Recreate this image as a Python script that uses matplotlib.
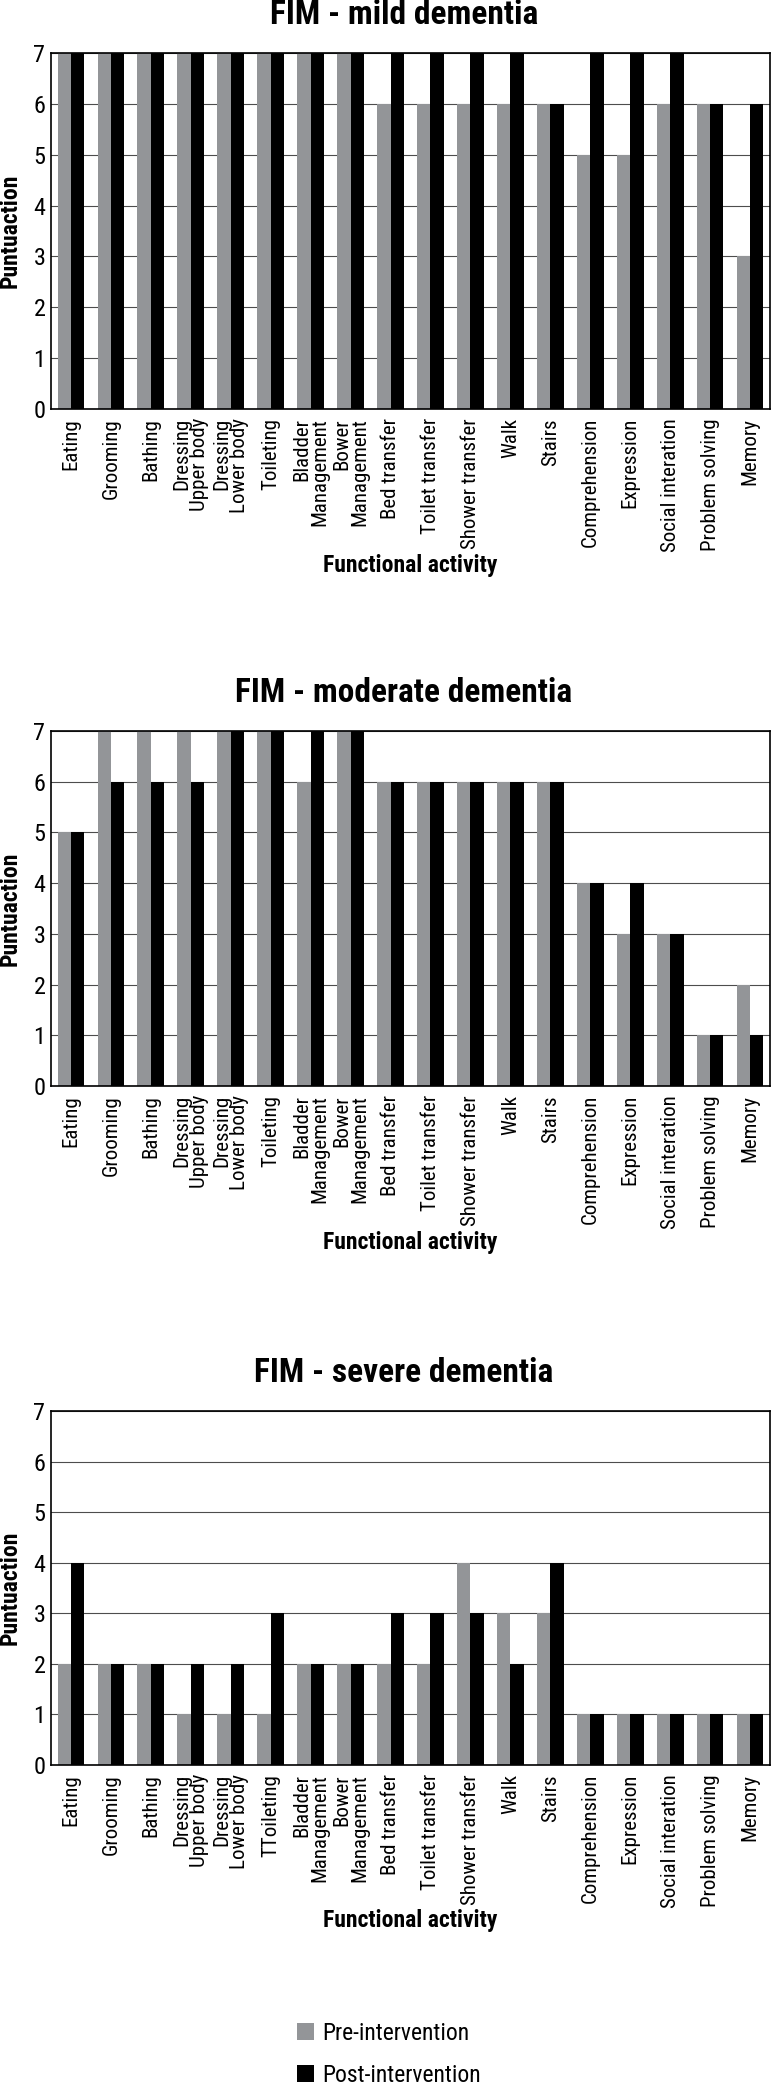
import numpy as np
import matplotlib
matplotlib.use('Agg')
import matplotlib.pyplot as plt
import matplotlib.font_manager as fm

####Data####

activities = ['Eating', 'Grooming', 'Bathing', 'Dressing\nUpper body', 'Dressing\nLower body',
              'Toileting', 'Bladder\nManagement', 'Bower\nManagement', 'Bed transfer',
              'Toilet transfer', 'Shower transfer', 'Walk', 'Stairs', 'Comprehension',
              'Expression', 'Social interation', 'Problem solving', 'Memory']
# the severe panel has a typo in the original labels
activities_severe = activities.copy()
activities_severe[5] = 'TToileting'

mild_pre = [7, 7, 7, 7, 7, 7, 7, 7, 6, 6, 6, 6, 6, 5, 5, 6, 6, 3]
mild_post = [7, 7, 7, 7, 7, 7, 7, 7, 7, 7, 7, 7, 6, 7, 7, 7, 6, 6]

moderate_pre = [5, 7, 7, 7, 7, 7, 6, 7, 6, 6, 6, 6, 6, 4, 3, 3, 1, 2]
moderate_post = [5, 6, 6, 6, 7, 7, 7, 7, 6, 6, 6, 6, 6, 4, 4, 3, 1, 1]

severe_pre = [2, 2, 2, 1, 1, 1, 2, 2, 2, 2, 4, 3, 3, 1, 1, 1, 1, 1]
severe_post = [4, 2, 2, 2, 2, 3, 2, 2, 3, 3, 3, 2, 4, 1, 1, 1, 1, 1]

titles = ['FIM - mild dementia', 'FIM - moderate dementia', 'FIM - severe dementia']
series_names = ['Pre-intervention', 'Post-intervention']

####pick a condensed font if one is installed####
entries = fm.fontManager.ttflist
names = {f.name for f in entries}
pref = ['Liberation Sans Narrow', 'Roboto Condensed', 'Open Sans Condensed',
        'Noto Sans Condensed', 'DejaVu Sans Condensed', 'Arial Narrow']
narrow = next((n for n in pref if n in names), None)
stretch = 'normal'
if narrow is None:
    cond = ('condensed', 'semi-condensed', 'extra-condensed', 'ultra-condensed')
    for fam in ['Noto Sans', 'Roboto', 'Open Sans', 'DejaVu Sans']:
        if any(f.name == fam and str(f.stretch) in cond for f in entries):
            narrow, stretch = fam, 'condensed'
            break
is_narrow = narrow is not None
if not is_narrow:
    narrow = 'Liberation Sans'
print('font:', narrow, stretch)

plt.rcParams['font.family'] = [narrow, 'DejaVu Sans']
plt.rcParams['font.stretch'] = stretch

k = 1.0 if is_narrow else 0.8  # shrink text when only a normal-width face exists

W, H = 771, 2084
fig = plt.figure(figsize=(W / 100, H / 100), dpi=100)

# axes boxes in pixels: (top, bottom)
boxes = [(53, 409), (731, 1086), (1411, 1765)]
left_px, right_px = 51, 770

panels = [(mild_pre, mild_post, activities),
          (moderate_pre, moderate_post, activities),
          (severe_pre, severe_post, activities_severe)]

gray = '#939598'
bw = 0.335
x = np.arange(len(activities))

for (top, bot), (pre, post, labels), title in zip(boxes, panels, titles):
    ax = fig.add_axes([left_px / W, 1 - bot / H, (right_px - left_px) / W, (bot - top) / H])
    b1 = ax.bar(x - bw / 2, pre, width=bw, color=gray, label=series_names[0], zorder=2)
    b2 = ax.bar(x + bw / 2, post, width=bw, color='black', label=series_names[1], zorder=2)
    ax.set_xlim(-0.5, len(activities) - 0.5)
    ax.set_ylim(0, 7)
    ax.set_yticks(range(8))
    ax.yaxis.grid(True, color='#4d4d4d', linewidth=0.8, zorder=0)
    ax.set_axisbelow(True)
    for sp in ax.spines.values():
        sp.set_linewidth(1.2)
        sp.set_color('black')
    ax.tick_params(axis='y', length=0, pad=4, labelsize=17.5 * k)
    ax.tick_params(axis='x', length=0, pad=6.5)
    ax.set_xticks(x)
    ax.set_xticklabels(labels, rotation=90, fontsize=15 * k, va='top', ha='center',
                       multialignment='right', linespacing=0.92)
    # titles sit a little left of the axes centre
    ax.set_title(title, fontsize=24 * k, fontweight='bold', pad=21,
                 x=(404 - left_px) / (right_px - left_px))
    h_ax = bot - top
    ax.set_xlabel('Functional activity', fontsize=17 * k, fontweight='bold')
    ax.xaxis.set_label_coords(0.5, -156 / h_ax)
    ax.xaxis.label.set_va('center')
    ax.set_ylabel('Puntuaction', fontsize=17 * k, fontweight='bold')
    ax.yaxis.set_label_coords(-41 / (right_px - left_px), 0.5)
    ax.yaxis.label.set_va('center')

fig.legend(handles=[b1, b2], labels=series_names, loc='upper left',
           bbox_to_anchor=(297 / W, 1 - 2022 / H), frameon=False, fontsize=17 * k,
           borderpad=0, borderaxespad=0, handlelength=0.7, handleheight=0.7,
           handletextpad=0.36, labelspacing=0.8)

plt.savefig('out.png', dpi=100)
